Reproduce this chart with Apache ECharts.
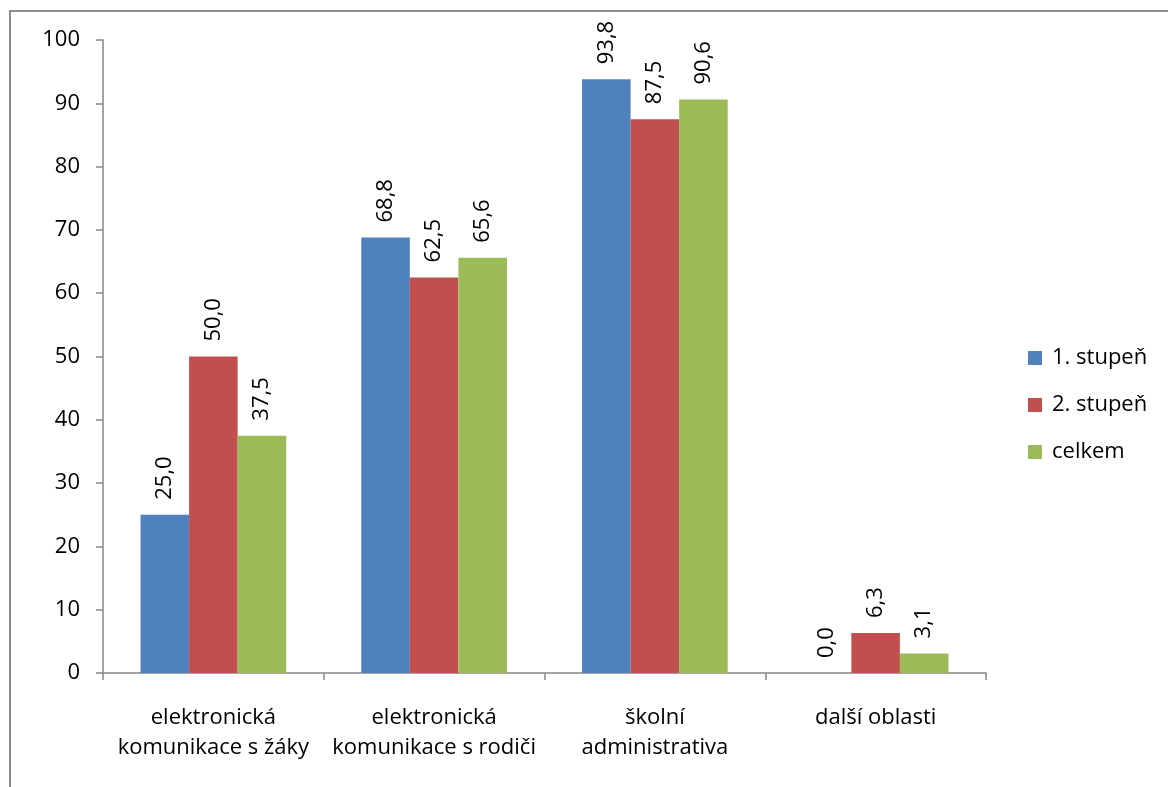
<!DOCTYPE html>
<html>
<head>
<meta charset="utf-8">
<script src="https://cdn.jsdelivr.net/npm/echarts@6/dist/echarts.min.js"></script>
<style>
  html, body { margin: 0; padding: 0; background: #fff; }
  #chart { width: 1168px; height: 787px; }
</style>
</head>
<body>
<div id="chart"></div>
<script>
const categories = [
  'elektronická\nkomunikace s žáky',
  'elektronická\nkomunikace s rodiči',
  'školní\nadministrativa',
  'další oblasti'
];
const stupen1 = [25.0, 68.8, 93.8, 0.0];
const stupen2 = [50.0, 62.5, 87.5, 6.3];
const celkem = [37.5, 65.6, 90.6, 3.1];
const seriesNames = ['1. stupeň', '2. stupeň', 'celkem'];
const colors = ['#4f81bd', '#c0504d', '#9bbb59'];

const FONT = 'Open Sans';
const FS = 22;
const axisGray = '#868686';

const chart = echarts.init(document.getElementById('chart'), null, { renderer: 'canvas' });

function barSeries(name, data, color) {
  return {
    name: name,
    type: 'bar',
    data: data,
    barGap: '0%',
    barCategoryGap: '34%',
    itemStyle: { color: color },
    label: {
      show: true,
      position: 'top',
      rotate: 90,
      align: 'left',
      verticalAlign: 'middle',
      distance: 15,
      color: '#000',
      fontFamily: FONT,
      fontSize: FS,
      formatter: p => p.value.toFixed(1).replace('.', ',')
    }
  };
}

chart.setOption({
  animation: false,
  backgroundColor: '#fff',
  color: colors,
  graphic: [{
    type: 'rect',
    shape: { x: 10, y: 11, width: 1200, height: 820 },
    style: { fill: 'none', stroke: '#8c8c8c', lineWidth: 2 },
    silent: true
  }],
  grid: { left: 103, right: 182, top: 40, bottom: 114, containLabel: false },
  legend: {
    orient: 'vertical',
    left: 1023,
    top: 341,
    itemWidth: 14,
    itemHeight: 14,
    itemGap: 23,
    icon: 'rect',
    textStyle: { fontFamily: FONT, fontSize: FS, lineHeight: 24, color: '#000', padding: [0, 0, 0, 5] },
    data: seriesNames
  },
  xAxis: {
    type: 'category',
    data: categories,
    axisLine: { lineStyle: { color: axisGray, width: 1.5 } },
    axisTick: { show: true, length: 7, lineStyle: { color: axisGray, width: 1.5 } },
    axisLabel: {
      fontFamily: FONT, fontSize: FS, color: '#000',
      margin: 30, lineHeight: 30, interval: 0
    }
  },
  yAxis: {
    type: 'value',
    min: 0, max: 100, interval: 10,
    splitLine: { show: false },
    axisLine: { show: true, lineStyle: { color: axisGray, width: 1.5 } },
    axisTick: { show: true, length: 7, lineStyle: { color: axisGray, width: 1.5 } },
    axisLabel: { fontFamily: FONT, fontSize: FS, color: '#000', margin: 23 }
  },
  series: [
    barSeries(seriesNames[0], stupen1, colors[0]),
    barSeries(seriesNames[1], stupen2, colors[1]),
    barSeries(seriesNames[2], celkem, colors[2])
  ]
});
</script>
</body>
</html>
